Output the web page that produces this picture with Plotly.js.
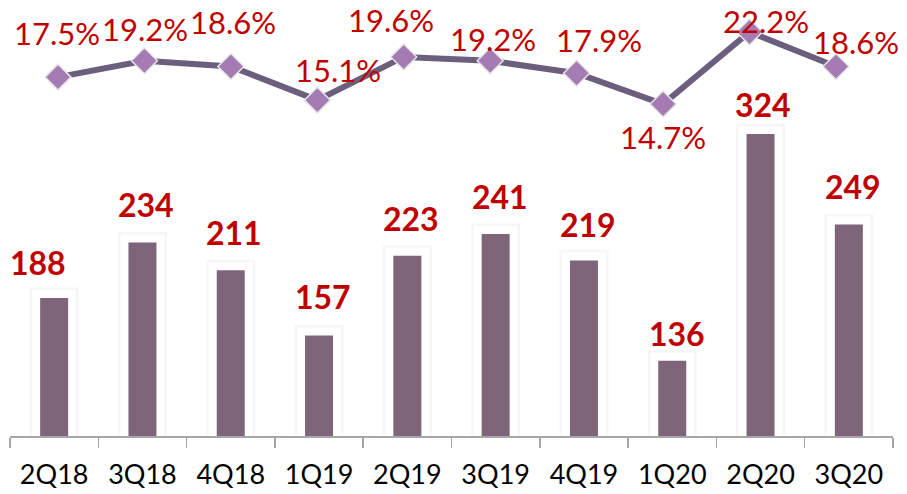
<!DOCTYPE html>
<html>
<head>
<meta charset="utf-8">
<script src="https://cdn.plot.ly/plotly-3.0.1.min.js"></script>
<style>html,body{margin:0;padding:0;background:#fff;}#chart{width:907px;height:494px;}</style>
</head>
<body>
<div id="chart"></div>
<script>
// ---- data ----
const quarters = ["2Q18","3Q18","4Q18","1Q19","2Q19","3Q19","4Q19","1Q20","2Q20","3Q20"];
const barValues = [188, 234, 211, 157, 223, 241, 219, 136, 324, 249];
const pctValues = [17.5, 19.2, 18.6, 15.1, 19.6, 19.2, 17.9, 14.7, 22.2, 18.6];

// ---- label placement (pixels) ----
const barLabelDx = [-16, 4, 3, 4, 4, 4, 4, 5, 2, 4];
const barLabelGap = [23, 26, 26, 27, 25, 26, 24, 15, 17, 26];
const pctLabelDx = [-1, 1, 2, 21, -13, 3, 22, 0, 16, 20];
const pctLabelDy = [-45.5, -32.5, -46, -31, -37.5, -23, -34.5, 32.5, -12, -26];

const FONT = "Lato, 'Open Sans', sans-serif";
const RED = "#C00000";
const BAR_W = 0.317;

const traces = [
  { type: "bar", x: quarters, y: barValues, width: BAR_W,
    marker: { color: "#ffffff", line: { color: "rgba(0,0,0,0.035)", width: 21 } },
    hoverinfo: "skip", showlegend: false },
  { type: "bar", x: quarters, y: barValues, width: BAR_W,
    marker: { color: "#ffffff", line: { color: "#ffffff", width: 16 } },
    hoverinfo: "skip", showlegend: false },
  { type: "bar", x: quarters, y: barValues, width: BAR_W,
    marker: { color: "#7F6579", line: { width: 0 } }, showlegend: false },
  { type: "scatter", mode: "lines+markers", x: quarters, y: pctValues,
    xaxis: "x2", yaxis: "y2", cliponaxis: false,
    line: { color: "#6C5F7E", width: 6 },
    marker: { symbol: "diamond", size: 20, color: "#A47CB3", line: { color: "#E6E6E6", width: 1.5 } },
    showlegend: false }
];

const annotations = [];
quarters.forEach((q, i) => {
  annotations.push({
    xref: "x", yref: "y", x: q, y: barValues[i],
    text: String(barValues[i]), showarrow: false,
    xanchor: "center", yanchor: "middle",
    xshift: barLabelDx[i], yshift: barLabelGap[i] + 12,
    font: { family: FONT, size: 32, color: RED, weight: 700 }
  });
  annotations.push({
    xref: "x2", yref: "y2", x: q, y: pctValues[i],
    text: pctValues[i].toFixed(1) + "%", showarrow: false,
    xanchor: "center", yanchor: "middle",
    xshift: pctLabelDx[i], yshift: -pctLabelDy[i] - 1,
    font: { family: FONT, size: 31, color: RED }
  });
});

const layout = {
  width: 907, height: 494,
  margin: { l: 10, r: 14, t: 0, b: 58 },
  paper_bgcolor: "#ffffff", plot_bgcolor: "#ffffff",
  barmode: "overlay",
  showlegend: false,
  font: { family: FONT, color: "#000" },
  xaxis: {
    type: "category", range: [-0.5, 9.5],
    showline: true, linecolor: "#A6A6A6", linewidth: 1.5,
    ticks: "outside", tickson: "boundaries", ticklen: 10, tickcolor: "#A6A6A6", tickwidth: 1.5,
    ticklabelstandoff: 14,
    showgrid: false, zeroline: false,
    tickfont: { family: FONT, size: 27, color: "#000" }
  },
  yaxis: { range: [73.6, 435], visible: false, showgrid: false, zeroline: false },
  xaxis2: { type: "category", overlaying: "x", range: [-0.555, 9.66], visible: false },
  yaxis2: { overlaying: "y", range: [-19.88, 25.53], visible: false },
  annotations: annotations
};

Plotly.newPlot("chart", traces, layout, { displayModeBar: false, staticPlot: true });
</script>
</body>
</html>
